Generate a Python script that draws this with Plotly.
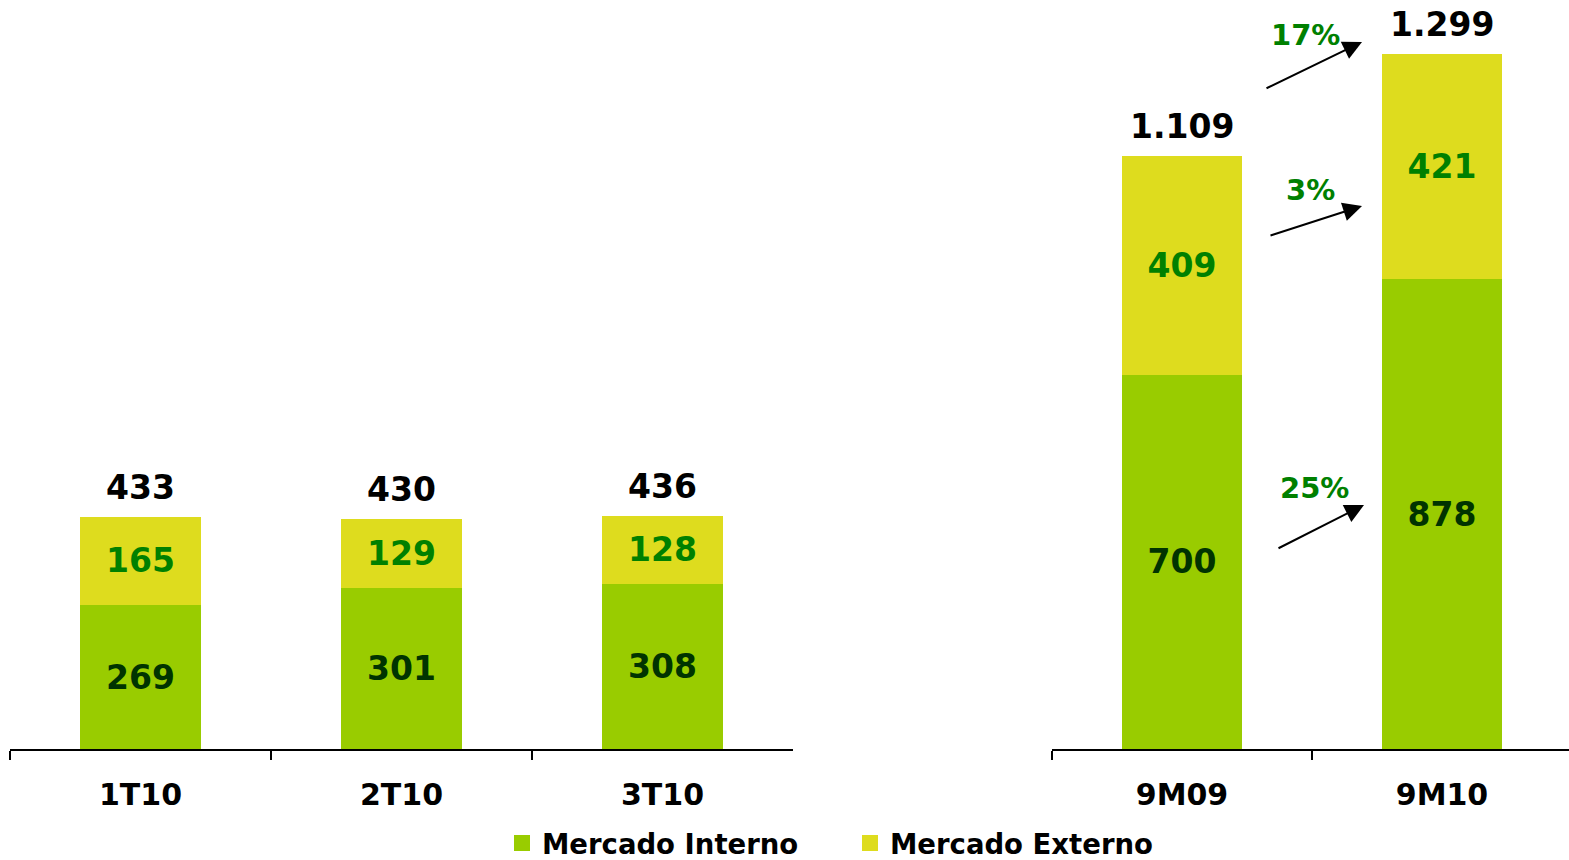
import plotly.graph_objects as go

# ---- data ----
cats_q = ["1T10", "2T10", "3T10"]
interno_q = [269, 301, 308]
externo_q = [165, 129, 128]
total_q = [433, 430, 436]

cats_9m = ["9M09", "9M10"]
interno_9m = [700, 878]
externo_9m = [409, 421]
total_9m = [1109, 1299]

growth_labels = ["17%", "3%", "25%"]  # total, externo, interno

C_INT = "#99CC00"
C_EXT = "#DEDC1E"
T_INT = "#003300"
T_EXT = "#008000"
FONT = "DejaVu Sans"
W, H = 1569, 860

def fmt(v):
    return f"{v:,}".replace(",", ".")

fig = go.Figure()

def add_bars(cats, interno, externo, xa, ya):
    fig.add_trace(go.Bar(
        x=cats, y=interno, marker=dict(color=C_INT, line=dict(width=0)),
        text=[fmt(v) for v in interno], textposition="inside",
        insidetextanchor="middle", textangle=0,
        textfont=dict(family=FONT, size=33, color=T_INT, weight="bold"),
        xaxis=xa, yaxis=ya, showlegend=False, hoverinfo="skip"))
    fig.add_trace(go.Bar(
        x=cats, y=externo, marker=dict(color=C_EXT, line=dict(width=0)),
        text=[fmt(v) for v in externo], textposition="inside",
        insidetextanchor="middle", textangle=0,
        textfont=dict(family=FONT, size=33, color=T_EXT, weight="bold"),
        xaxis=xa, yaxis=ya, showlegend=False, hoverinfo="skip"))

add_bars(cats_q, interno_q, externo_q, "x", "y")
add_bars(cats_9m, interno_9m, externo_9m, "x2", "y2")

# legend-only traces
for name, col in [("Mercado Interno", C_INT), ("Mercado Externo", C_EXT)]:
    fig.add_trace(go.Scatter(
        x=[None], y=[None], mode="markers", name=name,
        marker=dict(symbol="square", size=17, color=col),
        xaxis="x", yaxis="y", showlegend=True))

# totals above bars
for cats, tots, xr, yr in [(cats_q, total_q, "x", "y"), (cats_9m, total_9m, "x2", "y2")]:
    for c, t in zip(cats, tots):
        fig.add_annotation(x=c, y=t, xref=xr, yref=yr, text=fmt(t),
                           showarrow=False, yanchor="bottom", yshift=8,
                           font=dict(family=FONT, size=33, color="black", weight="bold"))

# growth arrows (head px, tail px, label center px)
arrows = [((1362, 42), (1265, 89), (1305, 35)),
          ((1362, 206), (1269, 236), (1310, 190)),
          ((1364, 505), (1277, 549), (1314, 488))]
for lab, (head, tail, lc) in zip(growth_labels, arrows):
    fig.add_annotation(x=head[0] / W, y=1 - head[1] / H, xref="paper", yref="paper",
                       ax=tail[0] - head[0], ay=tail[1] - head[1],
                       showarrow=True, arrowhead=2, arrowsize=1.9, arrowwidth=2,
                       arrowcolor="black", text="", standoff=0)
    fig.add_annotation(x=lc[0] / W, y=1 - lc[1] / H, xref="paper", yref="paper",
                       text=lab, showarrow=False, xanchor="center", yanchor="middle",
                       font=dict(family=FONT, size=29, color=T_EXT, weight="bold"))

ydom = [(H - 749) / H, 1.0]
axis_common = dict(type="category", showgrid=False, zeroline=False,
                   showline=True, linecolor="black", linewidth=2,
                   ticks="outside", tickson="boundaries", ticklen=9,
                   tickwidth=2, tickcolor="black", ticklabelstandoff=18,
                   tickfont=dict(family=FONT, size=30, color="black", weight="bold"),
                   fixedrange=True)

fig.update_layout(
    width=W, height=H,
    margin=dict(l=0, r=0, t=0, b=0, autoexpand=False),
    paper_bgcolor="white", plot_bgcolor="white",
    barmode="stack", bargap=0.538,
    xaxis=dict(domain=[10 / W, 793 / W], range=[-0.5, 2.5], anchor="y", **axis_common),
    xaxis2=dict(domain=[1052 / W, 1.0], range=[-0.5, -0.5 + (W - 1052) / 260],
                anchor="y2", **axis_common),
    yaxis=dict(domain=ydom, range=[0, 749 / 0.535], visible=False, fixedrange=True),
    yaxis2=dict(domain=ydom, range=[0, 749 / 0.535], visible=False, fixedrange=True,
                anchor="x2"),
    legend=dict(orientation="h", x=502 / W, y=1 - 843 / H, xanchor="left",
                yanchor="middle", entrywidth=303, entrywidthmode="pixels",
                traceorder="normal",
                font=dict(family=FONT, size=27.5, color="black", weight="bold"),
                bgcolor="rgba(0,0,0,0)"),
    font=dict(family=FONT),
)

fig.write_html("out.html", config={"displayModeBar": False},
               post_script="document.body.style.margin='0';document.body.style.overflow='hidden';")
